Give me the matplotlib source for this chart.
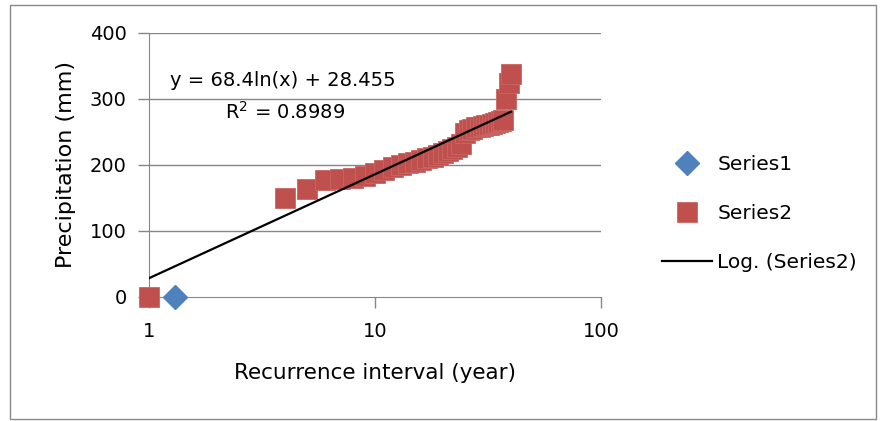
import numpy as np
import matplotlib.pyplot as plt
from matplotlib.patches import Rectangle

plt.rcParams['font.family'] = ['DejaVu Sans']

# Series1 (single diamond)
s1_x = [1.3]
s1_y = [0]

# Series2: rank (year) vs sorted precipitation
s2_x = [1] + list(range(4, 41))
s2_y = [0, 150, 163, 177, 179, 180, 183, 188, 193, 197, 200, 203, 205, 207, 210,
        212, 215, 218, 221, 224, 228, 232, 248, 253, 255, 257, 258, 259, 260,
        261, 262, 264, 265, 266, 268, 300, 325, 338]

# Log trendline coefficients shown on the chart
a_coef = 68.4
b_coef = 28.455
r2 = 0.8989

red = '#C0504D'
blue = '#4F81BD'
grid = '#868686'
fs = 14

fig = plt.figure(figsize=(8.8, 4.21), dpi=100)
fig.patches.append(Rectangle((10/880, 2/421), 866/880, 414/421, transform=fig.transFigure,
                             fill=False, edgecolor='#898989', linewidth=1.0))
ax = fig.add_axes([149/880, 1 - 297/421, 452/880, 264/421])

ax.set_xscale('log')
ax.set_xlim(1, 100)
ax.set_ylim(0, 400)

for yv in [100, 200, 300, 400]:
    ax.axhline(yv, color=grid, linewidth=1.0, zorder=0)

tx = np.linspace(1, max(s2_x), 200)
ax.plot(s2_x, s2_y, linestyle='none', marker='s', markersize=14.5,
        markerfacecolor=red, markeredgecolor='#c86663', markeredgewidth=0.6,
        label='Series2', zorder=3, clip_on=False)
ax.plot(s1_x, s1_y, linestyle='none', marker='D', markersize=12.5,
        markerfacecolor=blue, markeredgecolor=blue, label='Series1', zorder=3,
        clip_on=False)
ax.plot(tx, a_coef * np.log(tx) + b_coef, color='black', linewidth=1.6,
        label='Log. (Series2)', zorder=4)

ax.set_xticks([1, 10, 100])
ax.set_xticklabels(['1', '10', '100'])
ax.minorticks_off()
ax.set_yticks([0, 100, 200, 300, 400])
for side in ['top', 'right']:
    ax.spines[side].set_visible(False)
for side in ['left', 'bottom']:
    ax.spines[side].set_color(grid)
ax.tick_params(axis='both', colors=grid, labelcolor='black', labelsize=fs,
               length=8, width=1)
ax.tick_params(axis='x', pad=10)
ax.tick_params(axis='y', pad=8)

ax.set_xlabel('Recurrence interval (year)', fontsize=15.5, labelpad=16)
ax.set_ylabel('Precipitation (mm)', fontsize=16, labelpad=10)

ax.text(170/880, 1 - 80/421, 'y = 68.4ln(x) + 28.455', transform=fig.transFigure,
        fontsize=fs, va='center', ha='left')
ax.text(225/880, 1 - 112/421, 'R$^2$ = %.4f' % r2, transform=fig.transFigure,
        fontsize=fs, va='center', ha='left')

h, l = ax.get_legend_handles_labels()
order = [1, 0, 2]
ax.legend([h[i] for i in order], [l[i] for i in order],
          loc='upper left', bbox_to_anchor=(662/880, 1 - 155/421),
          bbox_transform=fig.transFigure, frameon=False, fontsize=14.5,
          borderpad=0, borderaxespad=0, handlelength=2.5, handletextpad=0.25,
          labelspacing=1.5, markerscale=0.95)

fig.savefig('out.png', dpi=100)
